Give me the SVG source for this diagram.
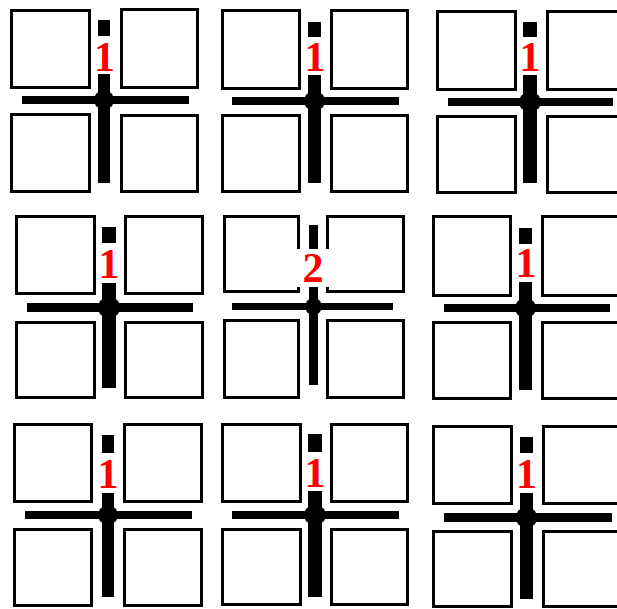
<svg xmlns="http://www.w3.org/2000/svg" width="617" height="609" viewBox="0 0 617 609">
<style>
.sq{fill:#fff;stroke:#000;stroke-width:3}
.bar{fill:#000}
.blob{fill:#000}
.num{font-family:"Liberation Serif","Times New Roman",serif;font-weight:bold;font-size:42px;fill:#f00;text-anchor:middle}
</style>
<rect width="617" height="609" fill="#fff"/>
<g id="cell-r0c0">
<rect class="sq" x="11.5" y="10.5" width="78" height="77"/>
<rect class="sq" x="121.5" y="9.5" width="76" height="78"/>
<rect class="sq" x="11.5" y="114.5" width="78" height="77"/>
<rect class="sq" x="121.5" y="115.5" width="76" height="76"/>
<rect class="bar" x="98" y="20" width="12" height="16"/>
<rect class="bar" x="98" y="74" width="12" height="109"/>
<rect class="bar" x="22" y="96" width="167" height="8"/>
<rect class="blob" x="95" y="92" width="18" height="16" rx="5"/>
<text class="num" x="104.5" y="71">1</text>
</g>
<g id="cell-r0c1">
<rect class="sq" x="222.5" y="10.5" width="77" height="78"/>
<rect class="sq" x="331.5" y="10.5" width="76" height="78"/>
<rect class="sq" x="222.5" y="115.5" width="77" height="76"/>
<rect class="sq" x="331.5" y="115.5" width="76" height="76"/>
<rect class="bar" x="308" y="22" width="13" height="15"/>
<rect class="bar" x="308" y="75" width="13" height="108"/>
<rect class="bar" x="232" y="97" width="167" height="8"/>
<rect class="blob" x="305" y="93" width="19" height="16" rx="5"/>
<text class="num" x="315" y="71">1</text>
</g>
<g id="cell-r0c2">
<rect class="sq" x="437.5" y="11.5" width="78" height="78"/>
<rect class="sq" x="547.5" y="11.5" width="80" height="78"/>
<rect class="sq" x="437.5" y="116.5" width="78" height="76"/>
<rect class="sq" x="547.5" y="116.5" width="80" height="76"/>
<rect class="bar" x="523" y="22" width="14" height="15"/>
<rect class="bar" x="523" y="75" width="14" height="108"/>
<rect class="bar" x="448" y="98" width="165" height="8"/>
<rect class="blob" x="520" y="94" width="20" height="16" rx="5"/>
<text class="num" x="530" y="71">1</text>
</g>
<g id="cell-r1c0">
<rect class="sq" x="16.5" y="216.5" width="78" height="77"/>
<rect class="sq" x="125.5" y="216.5" width="77" height="77"/>
<rect class="sq" x="16.5" y="322.5" width="78" height="75"/>
<rect class="sq" x="125.5" y="322.5" width="77" height="75"/>
<rect class="bar" x="102" y="227" width="14" height="16"/>
<rect class="bar" x="102" y="283" width="14" height="105"/>
<rect class="bar" x="27" y="303" width="166" height="9"/>
<rect class="blob" x="99" y="299" width="20" height="17" rx="5"/>
<text class="num" x="109" y="278">1</text>
</g>
<g id="cell-r1c1">
<rect class="sq" x="224.5" y="216.5" width="74" height="75"/>
<rect class="sq" x="327.5" y="216.5" width="76" height="75"/>
<rect class="sq" x="224.5" y="320.5" width="74" height="77"/>
<rect class="sq" x="327.5" y="320.5" width="76" height="77"/>
<rect x="296" y="249" width="35" height="38" fill="#fff"/>
<rect class="bar" x="309" y="225" width="9" height="24"/>
<rect class="bar" x="309" y="287" width="9" height="98"/>
<rect class="bar" x="232" y="303" width="161" height="7"/>
<rect class="blob" x="306" y="299" width="15" height="15" rx="5"/>
<text class="num" x="313" y="282">2</text>
</g>
<g id="cell-r1c2">
<rect class="sq" x="433.5" y="216.5" width="77" height="79"/>
<rect class="sq" x="542.5" y="216.5" width="80" height="79"/>
<rect class="sq" x="433.5" y="322.5" width="77" height="76"/>
<rect class="sq" x="542.5" y="322.5" width="80" height="76"/>
<rect class="bar" x="519" y="228" width="13" height="16"/>
<rect class="bar" x="519" y="282" width="13" height="108"/>
<rect class="bar" x="444" y="304" width="166" height="8"/>
<rect class="blob" x="516" y="300" width="19" height="16" rx="5"/>
<text class="num" x="526" y="277">1</text>
</g>
<g id="cell-r2c0">
<rect class="sq" x="14.5" y="424.5" width="77" height="77"/>
<rect class="sq" x="124.5" y="424.5" width="77" height="77"/>
<rect class="sq" x="14.5" y="529.5" width="77" height="76"/>
<rect class="sq" x="124.5" y="529.5" width="77" height="76"/>
<rect class="bar" x="102" y="435" width="12" height="18"/>
<rect class="bar" x="102" y="493" width="12" height="104"/>
<rect class="bar" x="25" y="511" width="167" height="8"/>
<rect class="blob" x="99" y="507" width="18" height="16" rx="5"/>
<text class="num" x="108" y="488">1</text>
</g>
<g id="cell-r2c1">
<rect class="sq" x="222.5" y="424.5" width="78" height="77"/>
<rect class="sq" x="331.5" y="424.5" width="76" height="77"/>
<rect class="sq" x="222.5" y="529.5" width="78" height="75"/>
<rect class="sq" x="331.5" y="529.5" width="76" height="75"/>
<rect class="bar" x="308" y="434" width="14" height="18"/>
<rect class="bar" x="308" y="491" width="14" height="106"/>
<rect class="bar" x="232" y="511" width="167" height="8"/>
<rect class="blob" x="305" y="507" width="20" height="16" rx="5"/>
<text class="num" x="315" y="487">1</text>
</g>
<g id="cell-r2c2">
<rect class="sq" x="433.5" y="426.5" width="78" height="77"/>
<rect class="sq" x="543.5" y="426.5" width="80" height="77"/>
<rect class="sq" x="433.5" y="531.5" width="78" height="75"/>
<rect class="sq" x="543.5" y="531.5" width="80" height="75"/>
<rect class="bar" x="520" y="437" width="13" height="16"/>
<rect class="bar" x="520" y="493" width="13" height="106"/>
<rect class="bar" x="444" y="513" width="168" height="9"/>
<rect class="blob" x="517" y="509" width="19" height="17" rx="5"/>
<text class="num" x="526.5" y="488">1</text>
</g>
</svg>
